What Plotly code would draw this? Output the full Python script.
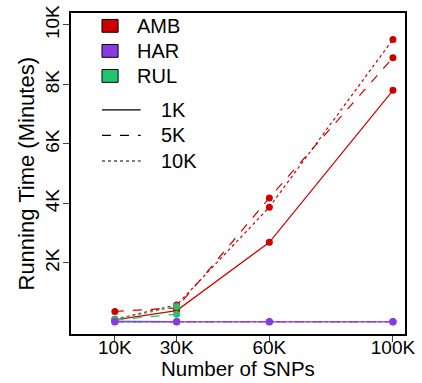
import plotly.graph_objects as go

snps = [10, 30, 60, 100]          # thousands
x_ticks = [10, 30, 60, 100]
x_tick_labels = ["10K", "30K", "60K", "100K"]
y_ticks = [2000, 4000, 6000, 8000, 10000]
y_tick_labels = ["2K", "4K", "6K", "8K", "10K"]

methods = ["AMB", "HAR", "RUL"]
colors = {"AMB": "#CC0000", "HAR": "#8A3BE0", "RUL": "#22C46E"}
sizes = ["1K", "5K", "10K"]
dashes = {"1K": "solid", "5K": "dash", "10K": "dot"}

amb_1k = [90, 400, 2694, 7806]
amb_5k = [370, 490, 4188, 8901]
amb_10k = [110, 590, 3876, 9514]
har_1k = [20, 20, 20, 20]
har_5k = [25, 25, 25, 25]
har_10k = [30, 30, 30, 30]
rul_x = [10, 30]
rul_1k = [50, 30]
rul_5k = [80, 280]
rul_10k = [100, 540]

series = [
    ("AMB", "1K", snps, amb_1k), ("AMB", "5K", snps, amb_5k), ("AMB", "10K", snps, amb_10k),
    ("RUL", "1K", rul_x, rul_1k), ("RUL", "5K", rul_x, rul_5k), ("RUL", "10K", rul_x, rul_10k),
    ("HAR", "1K", snps, har_1k), ("HAR", "5K", snps, har_5k), ("HAR", "10K", snps, har_10k),
]

fig = go.Figure()
for m, s, xs, ys in series:
    fig.add_trace(go.Scatter(
        x=xs, y=ys, mode="lines+markers",
        line=dict(color=colors[m], width=1.2, dash=dashes[s]),
        marker=dict(color=colors[m], size=7),
        showlegend=False, hoverinfo="skip"))

font = "Liberation Sans, Arial, sans-serif"
fig.update_layout(
    width=422, height=383,
    margin=dict(l=71, r=17, t=13, b=49),
    paper_bgcolor="white", plot_bgcolor="white",
    font=dict(family=font, color="black", size=18),
    xaxis=dict(range=[-4.2, 103.9], tickvals=x_ticks, ticktext=x_tick_labels,
               showgrid=False, zeroline=False, showline=True, linecolor="black",
               linewidth=1.5, mirror=True, ticks="outside", ticklen=6, tickwidth=1,
               tickfont=dict(size=19), automargin=False, ticklabelstandoff=-11),
    yaxis=dict(range=[-387, 10403], tickvals=y_ticks, ticktext=y_tick_labels,
               tickangle=-90,
               showgrid=False, zeroline=False, showline=True, linecolor="black",
               linewidth=1.5, mirror=True, ticks="outside", ticklen=6, tickwidth=1,
               tickfont=dict(size=19), automargin=False, ticklabelstandoff=-3),
)

# axis titles
fig.add_annotation(xref="paper", yref="paper", x=0.5, y=-0.1495, text="Number of SNPs",
                   showarrow=False, xanchor="center", yanchor="bottom",
                   font=dict(size=20.5))
fig.add_annotation(xref="paper", yref="paper", x=-0.1347, y=0.5,
                   text="Running Time (Minutes)", textangle=-90,
                   showarrow=False, xanchor="center", yanchor="middle",
                   font=dict(size=22))

# custom legend
for i, m in enumerate(methods):
    yc = 0.960 - i * 0.078
    fig.add_shape(type="rect", xref="paper", yref="paper",
                  x0=0.0928, x1=0.141, y0=yc - 0.02, y1=yc + 0.02,
                  fillcolor=colors[m], line=dict(color="black", width=1))
    fig.add_annotation(xref="paper", yref="paper", x=0.193, y=yc, text=m,
                       showarrow=False, xanchor="left", yanchor="middle",
                       font=dict(size=20))
for i, s in enumerate(sizes):
    yc = 0.698 - i * 0.0795
    fig.add_shape(type="line", xref="paper", yref="paper",
                  x0=0.0928, x1=0.2087, y0=yc, y1=yc,
                  line=dict(color="black", width=1.2, dash=dashes[s]))
    fig.add_annotation(xref="paper", yref="paper", x=0.262, y=yc, text=s,
                       showarrow=False, xanchor="left", yanchor="middle",
                       font=dict(size=20))

fig.write_html("out.html")
